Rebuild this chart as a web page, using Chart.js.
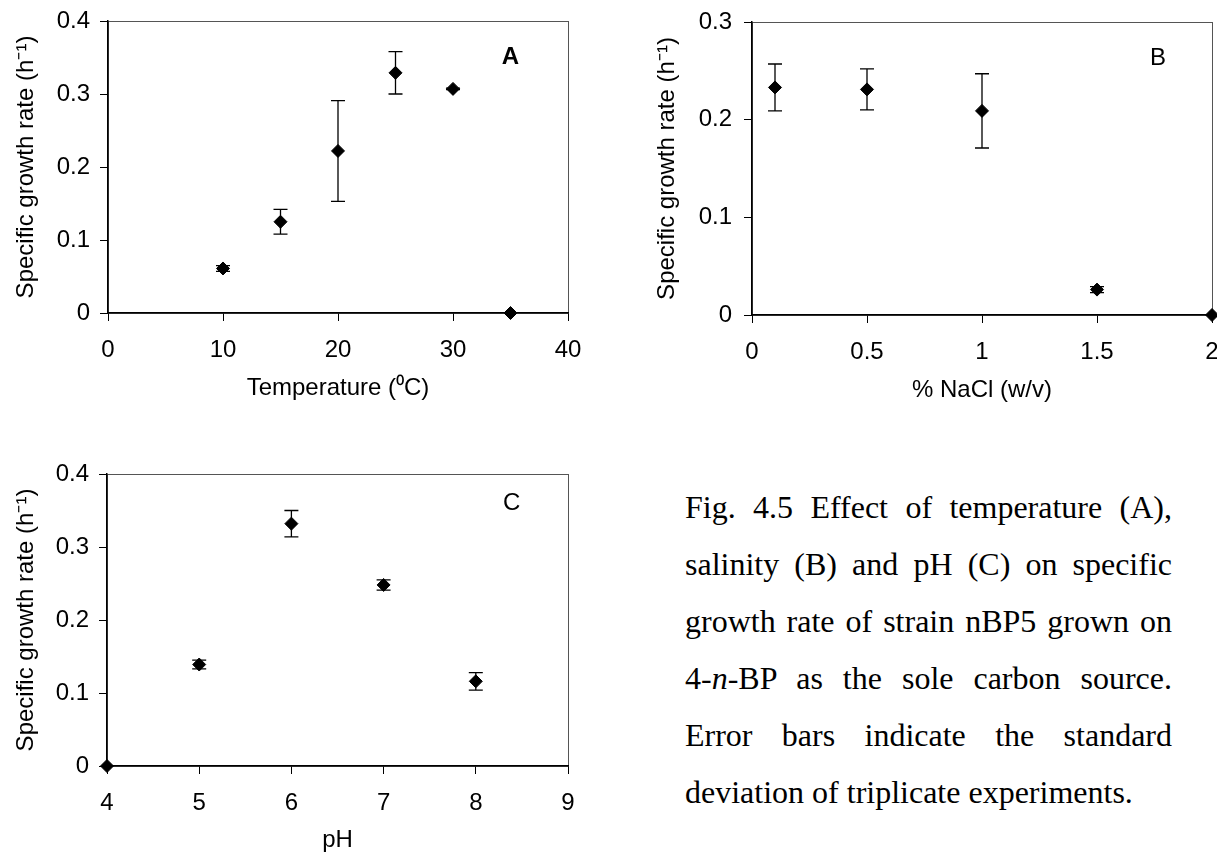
<!DOCTYPE html>
<html>
<head>
<meta charset="utf-8">
<script src="https://cdn.jsdelivr.net/npm/chart.js@4.4.1/dist/chart.umd.min.js"></script>
<style>
  html, body { margin: 0; padding: 0; background: #fff; width: 1217px; height: 852px; overflow: hidden; }
  canvas { position: absolute; }
  #caption {
    position: absolute; left: 685px; top: 479px; width: 487px;
    font-family: "Liberation Serif", "Times New Roman", serif;
    font-size: 32px; line-height: 57px; color: #000;
  }
  #caption .j { text-align: justify; text-align-last: justify; }
  #caption .l { text-align: left; }
</style>
</head>
<body>
<canvas id="panelA" width="600" height="420" style="left:0;top:0;width:600px;height:420px"></canvas>
<canvas id="panelB" width="605" height="420" style="left:612px;top:0;width:605px;height:420px"></canvas>
<canvas id="panelC" width="600" height="420" style="left:0;top:440px;width:600px;height:420px"></canvas>
<div id="caption">
  <div class="j">Fig. 4.5 Effect of temperature (A),</div>
  <div class="j">salinity (B) and pH (C) on specific</div>
  <div class="j">growth rate of strain nBP5 grown on</div>
  <div class="j">4-<i>n</i>-BP as the sole carbon source.</div>
  <div class="j">Error bars indicate the standard</div>
  <div class="l">deviation of triplicate experiments.</div>
</div>
<script>
// Panel A: temperature
const temperature = [10, 15, 20, 25, 30, 35];
const rateTemp    = [0.061, 0.125, 0.222, 0.329, 0.307, 0];
const sdTemp      = [0.004, 0.017, 0.069, 0.029, 0.001, 0];
const tempTicks   = [0, 10, 20, 30, 40];
const rateTicksA  = [0, 0.1, 0.2, 0.3, 0.4];

// Panel B: salinity
const salinity   = [0.1, 0.5, 1, 1.5, 2];
const rateSalt   = [0.233, 0.231, 0.209, 0.026, 0];
const sdSalt     = [0.024, 0.021, 0.038, 0.003, 0];
const saltTicks  = [0, 0.5, 1, 1.5, 2];
const rateTicksB = [0, 0.1, 0.2, 0.3];

// Panel C: pH
const pHValues   = [4, 5, 6, 7, 8];
const ratePH     = [0, 0.139, 0.332, 0.248, 0.116];
const sdPH       = [0, 0.006, 0.018, 0.007, 0.012];
const pHTicks    = [4, 5, 6, 7, 8, 9];
const rateTicksC = [0, 0.1, 0.2, 0.3, 0.4];

const yTitle = 'Specific growth rate (h\u207B\u00B9)';
const FONT = { family: '"Liberation Sans", Arial, sans-serif', size: 24 };

// Plot frame, error bars and the panel letter
function panelDecor(sd, letter, lx, ly, bold) {
  return {
    id: 'panelDecor',
    beforeDraw(chart) {
      const { ctx, chartArea: a } = chart;
      ctx.save();
      ctx.strokeStyle = '#555';
      ctx.lineWidth = 1;
      ctx.strokeRect(Math.round(a.left) + 0.5, Math.round(a.top) + 0.5,
                     Math.round(a.right - a.left), Math.round(a.bottom - a.top));
      ctx.restore();
    },
    beforeDatasetsDraw(chart) {
      const { ctx } = chart;
      const xs = chart.scales.x, ys = chart.scales.y;
      const pts = chart.data.datasets[0].data;
      ctx.save();
      ctx.strokeStyle = '#000';
      ctx.lineWidth = 1.3;
      pts.forEach((p, i) => {
        const e = sd[i];
        if (!e) return;
        const x = xs.getPixelForValue(p.x);
        const yTop = ys.getPixelForValue(p.y + e);
        const yBot = ys.getPixelForValue(p.y - e);
        ctx.beginPath();
        ctx.moveTo(x, yTop); ctx.lineTo(x, yBot);
        ctx.moveTo(x - 7, yTop); ctx.lineTo(x + 7, yTop);
        ctx.moveTo(x - 7, yBot); ctx.lineTo(x + 7, yBot);
        ctx.stroke();
      });
      ctx.restore();
    },
    afterDraw(chart) {
      const { ctx } = chart;
      ctx.save();
      ctx.fillStyle = '#000';
      ctx.font = (bold ? 'bold ' : '') + FONT.size + 'px ' + FONT.family;
      ctx.textAlign = 'center';
      ctx.textBaseline = 'middle';
      ctx.fillText(letter, chart.scales.x.getPixelForValue(lx), chart.scales.y.getPixelForValue(ly));
      ctx.restore();
    }
  };
}

function axisGrid() {
  return { display: true, drawOnChartArea: false, drawTicks: true, tickLength: 8,
           color: '#000', tickColor: '#000', lineWidth: 1 };
}

function makePanel(id, o) {
  new Chart(document.getElementById(id), {
    type: 'scatter',
    data: {
      datasets: [{
        data: o.x.map((v, i) => ({ x: v, y: o.y[i] })),
        pointStyle: 'rectRot',
        pointRadius: 6.5,
        pointHoverRadius: 6.5,
        backgroundColor: '#000',
        borderColor: '#000',
        borderWidth: 1,
        clip: false
      }]
    },
    options: {
      responsive: false,
      animation: false,
      devicePixelRatio: 1,
      events: [],
      layout: { padding: o.pad, autoPadding: false },
      plugins: { legend: { display: false }, tooltip: { enabled: false } },
      scales: {
        x: {
          type: 'linear',
          min: o.xTicks[0], max: o.xTicks[o.xTicks.length - 1],
          afterBuildTicks: s => { s.ticks = o.xTicks.map(v => ({ value: v })); },
          afterFit: s => { s.height = o.xHeight; s.paddingLeft = 0; s.paddingRight = 0; },
          grid: axisGrid(),
          border: { color: '#000', width: 1.5 },
          ticks: { font: FONT, color: '#000', padding: 15, maxRotation: 0, autoSkip: false,
                   callback: v => String(v) },
          title: { display: true, text: o.xTitle, font: FONT, color: '#000',
                   padding: { top: 0, bottom: o.xTitlePad } }
        },
        y: {
          type: 'linear',
          min: o.yTicks[0], max: o.yTicks[o.yTicks.length - 1],
          afterBuildTicks: s => { s.ticks = o.yTicks.map(v => ({ value: v })); },
          afterFit: s => { s.width = o.yWidth; s.paddingTop = 0; s.paddingBottom = 0; },
          grid: axisGrid(),
          border: { color: '#000', width: 1.5 },
          ticks: { font: FONT, color: '#000', padding: o.yTickPad, autoSkip: false,
                   callback: v => String(v) },
          title: { display: true, text: yTitle, font: FONT, color: '#000',
                   padding: { top: o.yTitlePad, bottom: 0 } }
        }
      }
    },
    plugins: [panelDecor(o.sd, o.letter, o.lx, o.ly, o.bold)]
  });
}

makePanel('panelA', {
  x: temperature, y: rateTemp, sd: sdTemp, xTicks: tempTicks, yTicks: rateTicksA,
  xTitle: 'Temperature (\u2070C)', letter: 'A', lx: 35, ly: 0.35, bold: true,
  pad: { left: 0, top: 21, right: 32, bottom: 0 },
  xHeight: 107, yWidth: 108, xTitlePad: 17.6, yTitlePad: 11.6, yTickPad: 10
});

makePanel('panelB', {
  x: salinity, y: rateSalt, sd: sdSalt, xTicks: saltTicks, yTicks: rateTicksB,
  xTitle: '% NaCl (w/v)', letter: 'B', lx: 1.765, ly: 0.263, bold: false,
  pad: { left: 0, top: 22, right: 5, bottom: 0 },
  xHeight: 105, yWidth: 140, xTitlePad: 15.6, yTitlePad: 41.2, yTickPad: 12
});

makePanel('panelC', {
  x: pHValues, y: ratePH, sd: sdPH, xTicks: pHTicks, yTicks: rateTicksC,
  xTitle: 'pH', letter: 'C', lx: 8.39, ly: 0.36, bold: false,
  pad: { left: 0, top: 34, right: 32, bottom: 0 },
  xHeight: 94, yWidth: 107, xTitlePad: 5.6, yTitlePad: 11.6, yTickPad: 10
});
</script>
</body>
</html>
